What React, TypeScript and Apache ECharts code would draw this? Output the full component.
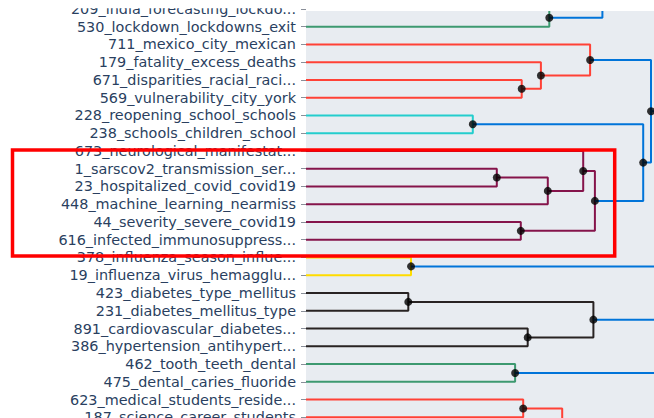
import React, { useEffect, useRef } from "react";
import * as echarts from "echarts";

// Leaf topics, top to bottom
const topicLabels = [
  "209_india_forecasting_lockdo...",
  "530_lockdown_lockdowns_exit",
  "711_mexico_city_mexican",
  "179_fatality_excess_deaths",
  "671_disparities_racial_raci...",
  "569_vulnerability_city_york",
  "228_reopening_school_schools",
  "238_schools_children_school",
  "673_neurological_manifestat...",
  "1_sarscov2_transmission_ser...",
  "23_hospitalized_covid_covid19",
  "448_machine_learning_nearmiss",
  "44_severity_severe_covid19",
  "616_infected_immunosuppress...",
  "378_influenza_season_influe...",
  "19_influenza_virus_hemagglu...",
  "423_diabetes_type_mellitus",
  "231_diabetes_mellitus_type",
  "891_cardiovascular_diabetes...",
  "386_hypertension_antihypert...",
  "462_tooth_teeth_dental",
  "475_dental_caries_fluoride",
  "623_medical_students_reside...",
  "187_science_career_students",
];

// Clusters lying outside the visible crop (row position, merge distance)
const outsideRows = [-3, 26];
const outsideDistances = [0.85, 0.8];

// Merges: node ids 0..23 are leaves, 24..25 outside clusters, 26+ are merges in order
const mergeLeft = [4, 3, 2, 6, 9, 30, 8, 12, 32, 29, 28, 0, 24, 14, 16, 18, 40, 20, 22, 44, 38, 39, 43];
const mergeRight = [5, 26, 27, 7, 10, 11, 31, 13, 33, 34, 35, 1, 37, 15, 17, 19, 41, 21, 23, 25, 36, 42, 45];
const mergeDistance = [
  0.719, 0.783, 0.947, 0.556, 0.636, 0.806, 0.924, 0.716, 0.963, 1.124, 1.15, 0.811, 0.988,
  0.35, 0.341, 0.739, 0.958, 0.697, 0.724, 0.854, 1.3, 1.3, 1.3,
];
const mergeColor = [
  "r", "r", "r", "c", "m", "m", "m", "m", "m", "b", "b", "g", "b",
  "y", "k", "k", "k", "g", "r", "r", "b", "b", "b",
];

const palette: Record<string, string> = {
  b: "rgb(0,116,217)",
  c: "rgb(35,205,205)",
  g: "rgb(61,153,112)",
  k: "rgb(40,35,35)",
  m: "rgb(133,20,75)",
  r: "rgb(255,65,54)",
  y: "rgb(255,220,0)",
};

function buildOption() {
  const nLeaves = topicLabels.length;
  const nodeY: number[] = [];
  const nodeX: number[] = [];
  for (let i = 0; i < nLeaves; i++) {
    nodeY.push(i);
    nodeX.push(0);
  }
  outsideRows.forEach((r, i) => {
    nodeY.push(r);
    nodeX.push(outsideDistances[i]);
  });
  const lineSeries: any[] = [];
  const dots: number[][] = [];
  mergeLeft.forEach((a, k) => {
    const b = mergeRight[k];
    const d = mergeDistance[k];
    const ya = nodeY[a];
    const yb = nodeY[b];
    const y = (ya + yb) / 2;
    lineSeries.push({
      type: "line",
      xAxisIndex: 0,
      yAxisIndex: 1,
      data: [
        [nodeX[a], ya],
        [d, ya],
        [d, yb],
        [nodeX[b], yb],
      ],
      showSymbol: false,
      symbol: "none",
      silent: true,
      clip: true,
      lineStyle: { color: palette[mergeColor[k]], width: 2 },
      z: 2,
    });
    dots.push([d, y]);
    nodeY.push(y);
    nodeX.push(d);
  });

  return {
    animation: false,
    grid: {
      left: 306,
      width: 348,
      top: -1,
      height: 24 * 17.8,
      show: true,
      backgroundColor: "#E8ECF1",
      borderWidth: 0,
      containLabel: false,
    },
    xAxis: {
      type: "value",
      min: 0,
      max: 1.16,
      show: false,
    },
    yAxis: [
      {
        type: "category",
        data: topicLabels,
        inverse: true,
        position: "left",
        axisLine: { show: false },
        axisTick: {
          show: true,
          alignWithLabel: true,
          length: 5,
          lineStyle: { color: "#8a8f99", width: 1 },
        },
        axisLabel: {
          interval: 0,
          margin: 10,
          color: "#2a3f5f",
          fontSize: 14.4,
          fontFamily: "DejaVu Sans",
        },
        splitLine: { show: false },
      },
      {
        type: "value",
        min: -0.5,
        max: nLeaves - 0.5,
        inverse: true,
        show: false,
      },
    ],
    series: [
      ...lineSeries,
      {
        type: "scatter",
        xAxisIndex: 0,
        yAxisIndex: 1,
        data: dots,
        symbolSize: 8,
        itemStyle: { color: "#000" },
        silent: true,
        clip: true,
        z: 5,
      },
    ],
    graphic: [
      {
        type: "rect",
        shape: { x: 0, y: 0, width: 306, height: 8.3 },
        style: { fill: "#fff" },
        z: 50,
      },
      {
        type: "rect",
        shape: { x: 306, y: 0, width: 348, height: 11 },
        style: { fill: "#fff" },
        z: 50,
      },
      {
        type: "rect",
        shape: { x: 12.5, y: 150, width: 602.2, height: 106 },
        style: { fill: "none", stroke: "#FF0000", lineWidth: 3.5 },
        z: 100,
      },
    ],
  };
}

export default function App() {
  const ref = useRef<HTMLDivElement>(null);
  useEffect(() => {
    if (!ref.current) return;
    const chart = echarts.init(ref.current, undefined, { renderer: "svg" });
    chart.setOption(buildOption() as any);
    return () => chart.dispose();
  }, []);
  return (
    <div
      ref={ref}
      style={{ position: "fixed", left: 0, top: 0, width: 654, height: 440, background: "#fff" }}
    />
  );
}
